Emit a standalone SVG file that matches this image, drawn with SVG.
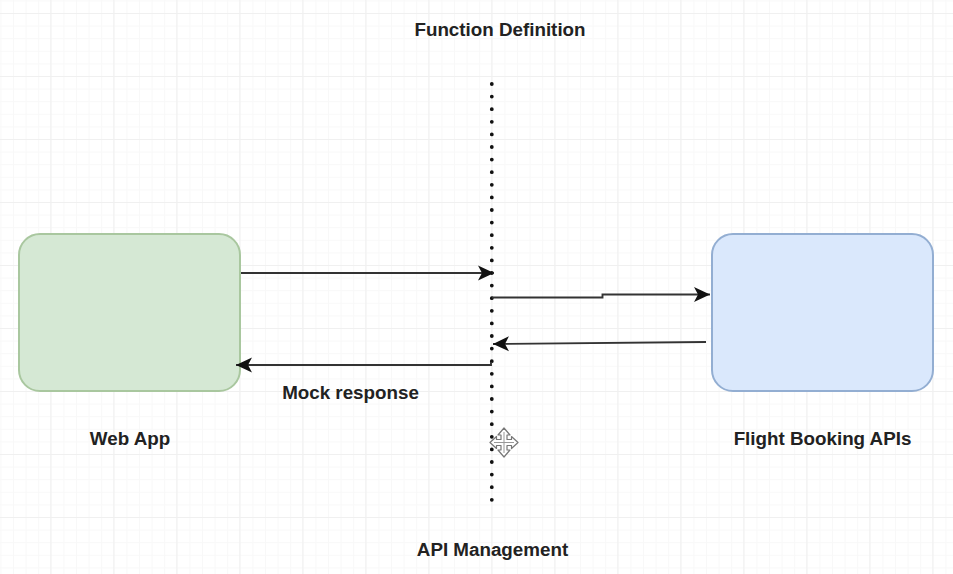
<svg xmlns="http://www.w3.org/2000/svg" width="953" height="574" viewBox="0 0 953 574">
<defs>
<pattern id="minor" width="12.6" height="12.6" patternUnits="userSpaceOnUse" x="0.4" y="0.4"><path d="M0.5 0V12.6M0 0.5H12.6" fill="none" stroke="#f8f8f8" stroke-width="1"/></pattern>
<pattern id="major" width="63" height="63" patternUnits="userSpaceOnUse" x="50.3" y="13"><path d="M0.5 0V63M0 0.5H63" fill="none" stroke="#f0f0f0" stroke-width="1.2"/></pattern>
<marker id="arrow" markerUnits="userSpaceOnUse" markerWidth="18" markerHeight="16" refX="16" refY="8" orient="auto"><path d="M0 0.500L16 8L0 15.500L4 8Z" fill="#111"/></marker>
</defs>
<style>
.lbl{font-family:"Liberation Sans",Arial,sans-serif;font-weight:700;font-size:18.8px;fill:#222;text-anchor:middle}
.conn{fill:none;stroke:#333;stroke-width:1.9;marker-end:url(#arrow)}
</style>
<rect width="953" height="574" fill="#fff"/>
<rect width="953" height="574" fill="url(#minor)"/>
<rect width="953" height="574" fill="url(#major)"/>
<g id="web-app">
<rect x="19" y="234" width="221" height="157" rx="21" fill="#d5e8d4" stroke="#a9c79f" stroke-width="2"/>
<text class="lbl" x="130" y="444.800">Web App</text>
</g>
<g id="flight-booking-apis">
<rect x="712" y="234" width="221" height="157" rx="21" fill="#dae8fc" stroke="#93aed2" stroke-width="2"/>
<text class="lbl" x="822.500" y="444.800">Flight Booking APIs</text>
</g>
<g id="function-definition"><text class="lbl" x="500" y="35.500">Function Definition</text></g>
<g id="api-management"><text class="lbl" x="492.500" y="555.800">API Management</text></g>
<g id="mock-response"><text class="lbl" x="350.500" y="398.800">Mock response</text></g>
<g id="connectors">
<path id="divider" d="M491.800 84V502" fill="none" stroke="#111" stroke-width="3.800" stroke-linecap="round" stroke-dasharray="0 12.6"/>
<path class="conn" d="M241 273H494"/>
<path class="conn" d="M492 297.500H602.500V294.500H710"/>
<path class="conn" d="M706 342L493 344"/>
<path class="conn" d="M491 362V365H236"/>
</g>
<g id="move-cursor" stroke-linejoin="round">
<path d="M504 428L510 435H507V439.500H511.500V436.500L518 442.500L511.500 448.500V445.500H507V450H510L504 457L498 450H501V445.500H496.500V448.500L490 442.500L496.500 436.500V439.500H501V435H498Z" fill="#fff" stroke="#777" stroke-width="1.200"/>
<path d="M504 432V453M494 442.500H514" fill="none" stroke="#999" stroke-width="1"/>
</g>
</svg>
